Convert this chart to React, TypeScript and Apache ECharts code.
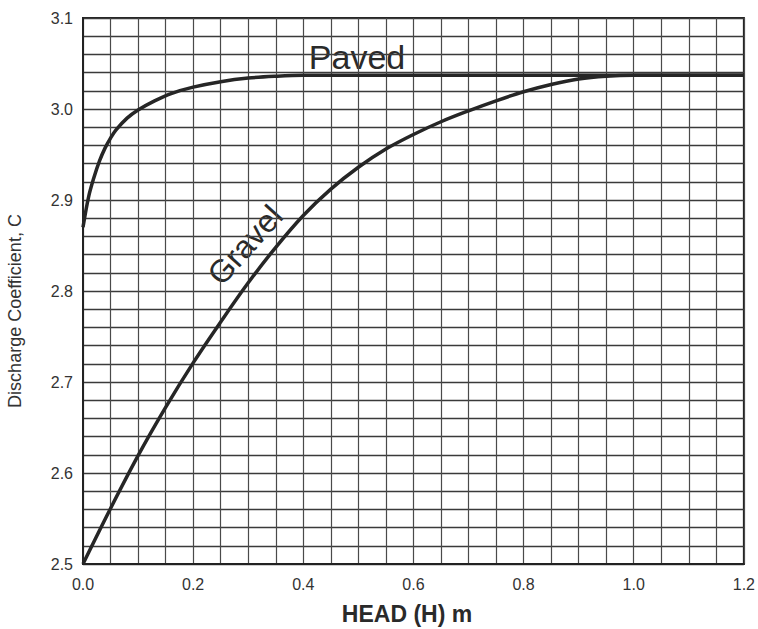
import React, { useEffect, useRef } from "react";
import * as echarts from "echarts";

const pavedX = [0, 0.01, 0.02, 0.03, 0.04, 0.05, 0.06, 0.08, 0.1, 0.13, 0.16, 0.2, 0.25, 0.3, 0.35, 0.4, 0.5, 0.6, 0.8, 1.0, 1.2];
const pavedC = [2.87, 2.903, 2.925, 2.943, 2.957, 2.968, 2.977, 2.99, 2.999, 3.009, 3.017, 3.024, 3.03, 3.034, 3.036, 3.037, 3.037, 3.037, 3.037, 3.037, 3.037];

const gravelX = [0, 0.05, 0.1, 0.15, 0.2, 0.25, 0.3, 0.35, 0.4, 0.45, 0.5, 0.55, 0.6, 0.65, 0.7, 0.75, 0.8, 0.85, 0.9, 0.95, 1.0, 1.2];
const gravelC = [2.5, 2.561, 2.619, 2.672, 2.721, 2.766, 2.809, 2.848, 2.883, 2.912, 2.936, 2.956, 2.972, 2.986, 2.998, 3.009, 3.019, 3.027, 3.033, 3.036, 3.037, 3.037];

const xTicks = ["0.0", "0.2", "0.4", "0.6", "0.8", "1.0", "1.2"];
const yTicks = ["2.5", "2.6", "2.7", "2.8", "2.9", "3.0", "3.1"];

const FONT = "Liberation Sans, Arial, sans-serif";

export default function App() {
  const ref = useRef<HTMLDivElement>(null);
  useEffect(() => {
    if (!ref.current) return;
    const chart = echarts.init(ref.current, null, { renderer: "svg" });
    const vLine = { color: "#4a4a4a", width: 1.2 };
    const hLine = { color: "#3a3a3a", width: 1.4 };
    chart.setOption({
      animation: false,
      backgroundColor: "#ffffff",
      grid: {
        left: 83,
        right: 10,
        top: 18,
        bottom: 65,
        show: true,
        borderColor: "#222",
        borderWidth: 2,
        backgroundColor: "transparent",
      },
      xAxis: {
        type: "value",
        min: 0,
        max: 1.2,
        interval: 0.2,
        axisLine: { show: true, lineStyle: { color: "#222", width: 2 } },
        axisTick: { show: false },
        axisLabel: {
          color: "#333",
          fontSize: 16,
          fontFamily: FONT,
          margin: 12,
          formatter: (v: number) => xTicks[Math.round(v / 0.2)] ?? "",
        },
        splitLine: { show: true, lineStyle: vLine },
        minorTick: { show: false, splitNumber: 4 },
        minorSplitLine: { show: true, lineStyle: vLine },
      },
      yAxis: {
        type: "value",
        min: 2.5,
        max: 3.1,
        interval: 0.1,
        axisLine: { show: true, lineStyle: { color: "#222", width: 2 } },
        axisTick: { show: false },
        axisLabel: {
          color: "#333",
          fontSize: 16,
          fontFamily: FONT,
          margin: 10,
          formatter: (v: number) => yTicks[Math.round((v - 2.5) / 0.1)] ?? "",
        },
        splitLine: { show: true, lineStyle: hLine },
        minorTick: { show: false, splitNumber: 5 },
        minorSplitLine: { show: true, lineStyle: hLine },
      },
      series: [
        {
          name: "Paved",
          type: "line",
          smooth: 0.35,
          showSymbol: false,
          data: pavedX.map((x, i) => [x, pavedC[i]]),
          lineStyle: { color: "#262626", width: 3.5 },
        },
        {
          name: "Gravel",
          type: "line",
          smooth: 0.35,
          showSymbol: false,
          data: gravelX.map((x, i) => [x, gravelC[i]]),
          lineStyle: { color: "#262626", width: 3.5 },
        },
      ],
      graphic: [
        {
          type: "text",
          x: 357,
          y: 57,
          style: {
            text: "Paved",
            fontSize: 34,
            fontFamily: FONT,
            fill: "#2a2a2a",
            align: "center",
            verticalAlign: "middle",
          },
        },
        {
          type: "text",
          x: 245,
          y: 245,
          rotation: (48 * Math.PI) / 180,
          style: {
            text: "Gravel",
            fontSize: 32,
            fontFamily: FONT,
            fill: "#2a2a2a",
            align: "center",
            verticalAlign: "middle",
          },
        },
        {
          type: "text",
          x: 15,
          y: 311,
          rotation: Math.PI / 2,
          style: {
            text: "Discharge Coefficient, C",
            fontSize: 18,
            fontFamily: FONT,
            fill: "#333",
            align: "center",
            verticalAlign: "middle",
          },
        },
        {
          type: "text",
          x: 407,
          y: 614,
          style: {
            text: "HEAD (H) m",
            fontSize: 23,
            fontWeight: "bold",
            fontFamily: FONT,
            fill: "#2a2a2a",
            align: "center",
            verticalAlign: "middle",
          },
        },
      ],
    });
    return () => chart.dispose();
  }, []);
  return (
    <div
      ref={ref}
      style={{ width: 758, height: 629, position: "absolute", left: 0, top: 0, background: "#fff" }}
    />
  );
}
